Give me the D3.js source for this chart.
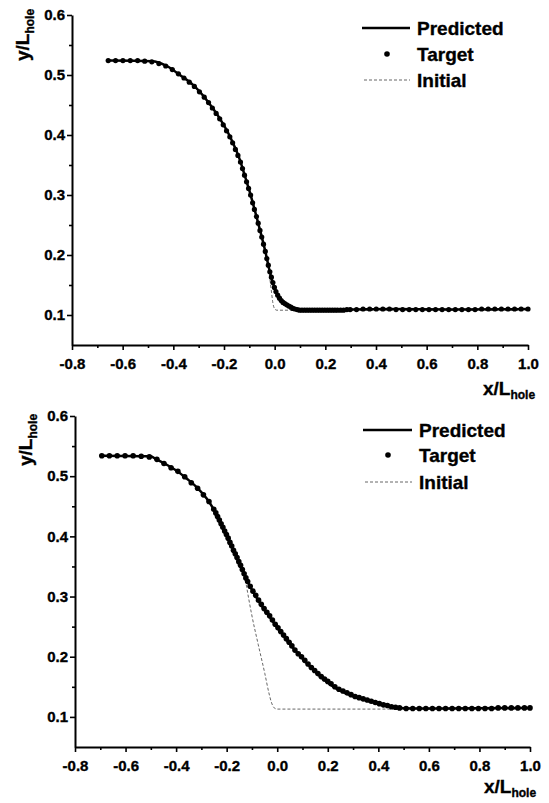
<!DOCTYPE html>
<html>
<head>
<meta charset="utf-8">
<script src="https://cdn.jsdelivr.net/npm/d3@7"></script>
<style>
  body { margin: 0; background: #fff; }
  svg { display: block; font-family: "Liberation Sans", Arial, sans-serif; font-weight: bold; }
  svg text { stroke: #000; stroke-width: 0.35px; }
</style>
</head>
<body>
<svg width="549" height="803"></svg>
<script>
// ticks shared by both panels
const xTicks = [-0.8, -0.6, -0.4, -0.2, 0.0, 0.2, 0.4, 0.6, 0.8, 1.0];
const xMinor = [-0.7, -0.5, -0.3, -0.1, 0.1, 0.3, 0.5, 0.7, 0.9];
const yTicks = [0.1, 0.2, 0.3, 0.4, 0.5, 0.6];
const yMinor = [0.15, 0.25, 0.35, 0.45, 0.55];
const legendLabels = ["Predicted", "Target", "Initial"];

// top panel: [x/Lhole, y/Lhole]
const topTarget = [
  [-0.657,.524],[-0.628,.524],[-0.599,.524],[-0.570,.524],[-0.541,.524],[-0.513,.523],[-0.485,.522],
  [-0.457,.519],[-0.430,.515],[-0.404,.509],[-0.380,.502],[-0.358,.495],[-0.337,.488],[-0.317,.481],
  [-0.297,.472],[-0.278,.463],[-0.261,.454],[-0.246,.445],[-0.231,.436],[-0.217,.427],[-0.203,.417],
  [-0.190,.407],[-0.177,.397],[-0.166,.387],[-0.155,.376],[-0.145,.366],[-0.135,.355],[-0.127,.344],
  [-0.119,.333],[-0.111,.322],[-0.103,.311],[-0.095,.300],[-0.087,.287],[-0.080,.276],[-0.072,.264],
  [-0.065,.253],[-0.058,.241],[-0.051,.230],[-0.044,.218],[-0.037,.206],[-0.031,.194],[-0.025,.183],
  [-0.019,.172],[-0.013,.163],[-0.007,.154],[-0.001,.146],[0.005,.139],[0.012,.133],[0.019,.128],
  [0.026,.124],[0.033,.121],[0.040,.119],[0.048,.117],[0.056,.115],[0.064,.113],[0.072,.111],
  [0.080,.110],[0.089,.109],[0.098,.108],[0.108,.108],[0.118,.108],[0.128,.108],[0.138,.108],
  [0.148,.108],[0.158,.108],[0.168,.108],[0.178,.108],[0.188,.108],[0.198,.108],[0.208,.108],
  [0.218,.108],[0.228,.108],[0.238,.108],[0.248,.108],[0.260,.108],[0.272,.108],[0.285,.109],
  [0.298,.109],[0.323,.109],[0.349,.110],[0.375,.110],[0.401,.110],[0.427,.110],[0.453,.110],
  [0.479,.109],[0.505,.109],[0.531,.109],[0.557,.109],[0.583,.109],[0.609,.109],[0.635,.109],
  [0.661,.109],[0.687,.109],[0.713,.109],[0.739,.109],[0.765,.109],[0.791,.109],[0.817,.110],
  [0.843,.110],[0.869,.110],[0.895,.110],[0.921,.110],[0.947,.110],[0.973,.110],[1.000,.110]
];
const topPredicted = [
  [-0.657,.524],[-0.485,.523],[-0.426,.515],[-0.374,.500],[-0.321,.483],[-0.268,.458],[-0.222,.431],
  [-0.176,.397],[-0.137,.358],[-0.117,.331],[-0.097,.303],[-0.065,.253],[-0.038,.208],[-0.018,.170],
  [0.008,.136],[0.048,.117],[0.100,.108],[0.300,.109],[0.450,.110],[0.700,.109],[1.000,.110]
];
const topInitial = [
  [-0.657,.524],[-0.485,.523],[-0.426,.515],[-0.374,.500],[-0.321,.483],[-0.268,.458],[-0.222,.431],
  [-0.176,.397],[-0.137,.358],[-0.117,.331],[-0.097,.303],[-0.065,.253],[-0.038,.208],[-0.028,.186],
  [-0.020,.164],[-0.013,.140],[-0.007,.120],[-0.001,.111],[0.008,.108],[1.000,.108]
];

// bottom panel
const botTarget = [
  [-0.694,.534],[-0.664,.534],[-0.633,.534],[-0.602,.534],[-0.570,.534],[-0.538,.533],[-0.506,.532],
  [-0.476,.528],[-0.448,.521],[-0.420,.514],[-0.393,.508],[-0.366,.499],[-0.340,.489],[-0.315,.480],
  [-0.292,.469],[-0.270,.458],[-0.251,.445],[-0.243,.439],[-0.236,.433],[-0.229,.427],[-0.222,.421],
  [-0.215,.415],[-0.208,.409],[-0.201,.403],[-0.194,.397],[-0.187,.390],[-0.180,.384],[-0.173,.377],
  [-0.166,.371],[-0.159,.365],[-0.152,.358],[-0.145,.352],[-0.138,.345],[-0.131,.338],[-0.124,.331],
  [-0.117,.325],[-0.107,.317],[-0.096,.309],[-0.085,.302],[-0.074,.294],[-0.063,.287],[-0.052,.280],
  [-0.041,.274],[-0.030,.268],[-0.019,.261],[-0.008,.254],[0.003,.248],[0.014,.242],[0.025,.236],
  [0.036,.230],[0.047,.224],[0.058,.218],[0.070,.211],[0.083,.205],[0.096,.200],[0.109,.194],
  [0.122,.188],[0.135,.182],[0.148,.177],[0.161,.172],[0.174,.167],[0.187,.163],[0.200,.159],
  [0.213,.155],[0.228,.150],[0.244,.146],[0.260,.143],[0.276,.140],[0.292,.137],[0.308,.134],
  [0.324,.132],[0.340,.130],[0.356,.128],[0.372,.126],[0.388,.124],[0.404,.122],[0.420,.120],
  [0.436,.119],[0.452,.117],[0.468,.116],[0.484,.115],[0.510,.114],[0.536,.114],[0.562,.114],
  [0.588,.114],[0.614,.114],[0.640,.114],[0.666,.114],[0.692,.114],[0.718,.114],[0.744,.114],
  [0.770,.114],[0.796,.114],[0.822,.114],[0.848,.114],[0.874,.115],[0.900,.115],[0.926,.115],
  [0.952,.115],[0.978,.115],[1.000,.115]
];
const botPredicted = [
  [-0.694,.534],[-0.503,.533],[-0.474,.527],[-0.437,.519],[-0.398,.509],[-0.358,.496],[-0.319,.482],
  [-0.279,.463],[-0.246,.441],[-0.220,.419],[-0.194,.397],[-0.167,.372],[-0.141,.347],[-0.114,.322],
  [-0.068,.289],[-0.002,.250],[0.064,.214],[0.143,.178],[0.222,.150],[0.301,.134],[0.393,.123],
  [0.474,.115],[0.600,.114],[1.000,.115]
];
const botInitial = [
  [-0.694,.534],[-0.503,.533],[-0.474,.527],[-0.437,.519],[-0.398,.509],[-0.358,.496],[-0.319,.482],
  [-0.279,.463],[-0.246,.441],[-0.220,.419],[-0.194,.397],[-0.167,.372],[-0.141,.347],[-0.128,.333],
  [-0.121,.316],[-0.101,.270],[-0.075,.220],[-0.049,.172],[-0.033,.140],[-0.022,.123],[-0.012,.115],
  [0.000,.113],[1.000,.113]
];

const svg = d3.select('svg');
svg.append('rect').attr('width', 549).attr('height', 803).attr('fill', '#fff');

function drawPanel(p) {
  const x = d3.scaleLinear().domain([-0.8, 1.0]).range([p.left, p.right]);
  const y = d3.scaleLinear().domain([0.05, 0.6]).range([p.bottom, p.top]);
  const g = svg.append('g');
  const fmt = d => d.toFixed(1);

  // minor ticks first, then the labelled axes on top
  g.append('g').attr('transform', `translate(0,${p.bottom})`)
    .call(d3.axisBottom(x).tickValues(xMinor).tickSize(3).tickSizeOuter(0).tickFormat(''))
    .call(a => a.select('.domain').remove());
  g.append('g').attr('transform', `translate(${p.left},0)`)
    .call(d3.axisLeft(y).tickValues(yMinor).tickSize(3).tickSizeOuter(0).tickFormat(''))
    .call(a => a.select('.domain').remove());

  const xa = g.append('g').attr('transform', `translate(0,${p.bottom})`)
    .call(d3.axisBottom(x).tickValues(xTicks).tickSize(5).tickSizeOuter(0).tickPadding(8).tickFormat(fmt));
  const ya = g.append('g').attr('transform', `translate(${p.left},0)`)
    .call(d3.axisLeft(y).tickValues(yTicks).tickSize(5).tickSizeOuter(0).tickPadding(2).tickFormat(fmt));

  [xa, ya].forEach(a => {
    a.select('.domain').attr('stroke', '#000').attr('stroke-width', 2);
    a.selectAll('.tick text').attr('font-size', 15).attr('font-weight', 'bold')
      .attr('font-family', '"Liberation Sans", Arial, sans-serif').attr('fill', '#000');
  });
  g.selectAll('.tick line').attr('stroke', '#000').attr('stroke-width', 1.6);

  // axis titles
  const xt = g.append('text').attr('x', p.xTitle[0]).attr('y', p.xTitle[1]).attr('font-size', 19);
  xt.append('tspan').text('x/L');
  xt.append('tspan').text('hole').attr('font-size', 12).attr('dy', 4);

  const yt = g.append('text')
    .attr('transform', `translate(${p.yTitle[0]},${p.yTitle[1]}) rotate(-90)`).attr('font-size', 19);
  yt.append('tspan').text('y/L');
  yt.append('tspan').text('hole').attr('font-size', 12).attr('dy', 5);

  // curves
  const line = d3.line().x(d => x(d[0])).y(d => y(d[1])).curve(d3.curveMonotoneX);
  g.append('path').datum(p.initial).attr('d', line)
    .attr('fill', 'none').attr('stroke', '#555').attr('stroke-width', 0.9).attr('stroke-dasharray', '3,2');
  g.append('path').datum(p.predicted).attr('d', line)
    .attr('fill', 'none').attr('stroke', '#000').attr('stroke-width', 2.5);
  g.append('g').selectAll('circle').data(p.target).join('circle')
    .attr('cx', d => x(d[0])).attr('cy', d => y(d[1])).attr('r', p.dotR).attr('fill', '#000');

  // legend
  const L = p.legend;
  g.append('line').attr('x1', L.x1).attr('x2', L.x2).attr('y1', L.rows[0]).attr('y2', L.rows[0])
    .attr('stroke', '#000').attr('stroke-width', 2.5);
  g.append('circle').attr('cx', L.dot).attr('cy', L.rows[1]).attr('r', 2.8).attr('fill', '#000');
  g.append('line').attr('x1', L.x1 + 2).attr('x2', L.x2).attr('y1', L.rows[2]).attr('y2', L.rows[2])
    .attr('stroke', '#555').attr('stroke-width', 0.9).attr('stroke-dasharray', '3,2');
  g.selectAll('.leg').data(legendLabels).join('text').attr('class', 'leg')
    .attr('x', L.tx).attr('y', (d, i) => L.rows[i] + 7).attr('font-size', 19).text(d => d);
}

drawPanel({
  left: 72, right: 528, top: 15, bottom: 345, dotR: 2.6,
  target: topTarget, predicted: topPredicted, initial: topInitial,
  xTitle: [483, 395], yTitle: [29, 61],
  legend: { x1: 362, x2: 410, dot: 387, tx: 417, rows: [28, 54, 80] }
});
drawPanel({
  left: 75, right: 530, top: 416, bottom: 747, dotR: 2.8,
  target: botTarget, predicted: botPredicted, initial: botInitial,
  xTitle: [484, 793], yTitle: [32, 466],
  legend: { x1: 363, x2: 412, dot: 388, tx: 419, rows: [430, 455, 482] }
});
</script>
</body>
</html>
